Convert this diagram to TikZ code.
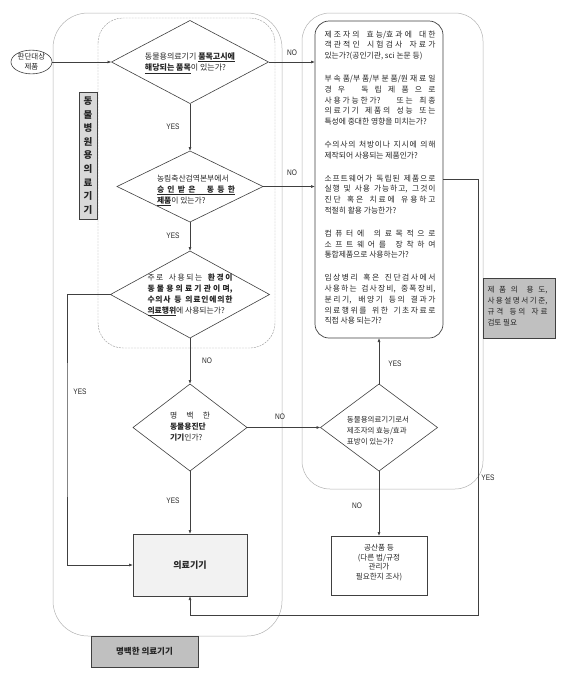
\documentclass[tikz,border=0pt]{standalone}
\usepackage{fontspec}
\setmainfont{Noto Sans CJK KR}
\newfontfamily\narrowfont[FakeStretch=0.82]{Liberation Sans}
\usetikzlibrary{shapes.geometric,arrows.meta,shadows}
\definecolor{lc}{HTML}{404040}
\definecolor{txt}{HTML}{262626}
\definecolor{grayfill}{HTML}{C0C0C0}
\definecolor{sidefill}{HTML}{D9D9D9}
\definecolor{boxfill}{HTML}{F2F2F2}
\newcommand\fsz[2]{\fontsize{#1}{#2}\selectfont}
\newcommand\jl[2]{\makebox[#1][s]{#2}}
% stretchable glue between Hangul syllables (used only in justified lines)
\XeTeXinterchartokenstate=1
\newXeTeXintercharclass\hangulclass
\count255="AC00
\loop
  \XeTeXcharclass\count255=\hangulclass
\ifnum\count255<"D7A3
  \advance\count255 by 1
\repeat
\XeTeXinterchartoks\hangulclass\hangulclass={\hskip0pt plus 0.35pt\relax}
\tikzset{
  dia/.style={diamond, draw=lc, line width=0.6pt, fill=white, inner sep=0pt, outer sep=0pt},
  dtext/.style={align=left, inner sep=0pt, text=txt, font=\fsz{7.8}{11}},
  arr/.style={-{Latex[length=4pt,width=3pt]}, draw=lc, line width=0.6pt},
  lbl/.style={font=\narrowfont\fsz{8}{9}, text=txt, inner sep=0pt},
  shbox/.style={rectangle, draw=lc, line width=0.6pt, inner sep=0pt, outer sep=0pt,
    drop shadow={shadow xshift=1.2pt, shadow yshift=-1.2pt, fill=black, opacity=0.35}},
  regionA/.style={draw=gray!60, line width=0.5pt},
  regionB/.style={draw=gray!75, line width=0.45pt, dash pattern=on 2pt off 1pt},
}
\begin{document}
\begin{tikzpicture}[x=1pt,y=-1pt]
\useasboundingbox (0,0) rectangle (569,681);
% regions
\draw[regionA, rounded corners=35pt] (53,13) rectangle (282,636);
\draw[regionB, rounded corners=25pt] (98,18) rectangle (275,348);
\draw[regionA, rounded corners=28pt] (302,13) rectangle (483,489);

% nodes
\node[ellipse, draw=lc, line width=0.6pt, fill=white, minimum width=41pt, minimum height=22pt, inner sep=0pt, align=center, text=txt, font=\fsz{7.5}{10}] (e) at (31.5,62) {판단대상\\제품};

\node[dia, minimum width=157pt, minimum height=83pt] (d1) at (190,62) {};
\node[dtext, font=\fsz{8}{11.5}] (t1) at (190,63) {동물용의료기기 \underline{\textbf{품목고시에}}\\\underline{\textbf{해당되는 품목}}이 있는가?};

\node[dia, minimum width=146pt, minimum height=71pt] (d2) at (190,186.5) {};
\node[dtext] (t2) at (196,190.5) {농림축산검역본부에서\\\underline{\jl{78pt}{\textbf{승 인 받 은\hspace{8pt} 동 등 한}}}\\\underline{\textbf{제품}}이 있는가?};

\node[dia, minimum width=159pt, minimum height=87pt] (d3) at (190,294.5) {};
\node[dtext] (t3) at (190,295) {\jl{85pt}{주로 사용되는 \textbf{환경이}}\\\jl{85pt}{\textbf{동 물 용 의 료 기 관 이 며,}}\\\jl{85pt}{\textbf{수의사 등 의료인에의한}}\\\underline{\textbf{의료행위}}에 사용되는가?};

\node[dia, minimum width=114pt, minimum height=87pt] (d4) at (190,427.5) {};
\node[dtext] (t4) at (190,427) {\jl{40pt}{명 백 한}\\\textbf{동물용진단}\\\textbf{기기}인가?};

\node[dia, minimum width=117pt, minimum height=87pt] (d5) at (379,427.5) {};
\node[dtext, font=\fsz{7.5}{11.3}] (t5) at (378,430.5) {동물용의료기기로서\\제조자의 효능/효과\\표방이 있는가?};

\node[rectangle, draw=lc, line width=0.7pt, fill=white, rounded corners=14pt, minimum width=128pt, minimum height=317pt, inner sep=0pt, outer sep=0pt] (tb) at (379,179.5) {};
\node[anchor=north, align=left, inner sep=0pt, text=txt, font=\fsz{7.8}{10.8}] (tbt) at (380,30.5) {%
\jl{111pt}{제조자의 효능/효과에 대한}\\
\jl{111pt}{객관적인 시험검사 자료가}\\
있는가?(공인기관, sci 논문 등)\\[12pt]
\jl{111pt}{부속품/부품/부분품/원재료일}\\
\jl{111pt}{경 우\hspace{10pt} 독 립 제 품 으 로}\\
\jl{111pt}{사용가능한가? 또는 최종}\\
\jl{111pt}{의료기기 제품의 성능 또는}\\
특성에 중대한 영향을 미치는가?\\[12pt]
\jl{111pt}{수의사의 처방이나 지시에 의해}\\
제작되어 사용되는 제품인가?\\[12pt]
\jl{111pt}{소프트웨어가 독립된 제품으로}\\
\jl{111pt}{실행 및 사용 가능하고, 그것이}\\
\jl{111pt}{진단 혹은 치료에 유용하고}\\
적절히 활용 가능한가?\\[12pt]
\jl{111pt}{컴 퓨 터 에\hspace{6pt} 의 료 목 적 으 로}\\
\jl{111pt}{소 프 트 웨 어 를\hspace{6pt} 장 착 하 여}\\
통합제품으로 사용하는가?\\[12pt]
\jl{111pt}{임상병리 혹은 진단검사에서}\\
\jl{111pt}{사용하는 검사장비, 중폭장비,}\\
\jl{111pt}{분리기, 배양기 등의 결과가}\\
\jl{111pt}{의료행위를 위한 기초자료로}\\
직접 사용 되는가?};

\node[shbox, fill=grayfill, minimum width=72pt, minimum height=60pt] (gb) at (519,308) {};
\node[align=left, inner sep=0pt, text=txt, font=\fsz{7.6}{11}] (gbt) at (517.5,306.5) {\jl{60pt}{제 품 의\hspace{4pt} 용 도,}\\\jl{60pt}{사용설명서기준,}\\\jl{60pt}{규격 등의 자료}\\검토 필요};

\node[shbox, fill=boxfill, minimum width=114pt, minimum height=62pt, text=txt, font=\bfseries\fsz{9}{11}] (mb) at (190,565) {의료기기};

\node[shbox, fill=white, minimum width=96pt, minimum height=59pt] (gs) at (379,565.5) {};
\node[align=center, inner sep=0pt, text=txt, font=\fsz{7.6}{9.8}] (gst) at (379,562.5) {공산품 등\\(다른 법/규정\\관리가\\필요한지 조사)};

\node[shbox, fill=grayfill, minimum width=107pt, minimum height=31pt, text=txt, font=\bfseries\fsz{8.5}{10}] (mk) at (144.5,651.5) {명백한 의료기기};

\node[shbox, fill=sidefill, minimum width=18pt, minimum height=127pt, align=center, text=txt, font=\bfseries\fsz{9.5}{13.6}] (sb) at (88,155.5) {동\\물\\병\\원\\용\\의\\료\\기\\기};

% connectors
\coordinate (c1) at (478,615);
\coordinate (c2) at (67,430);
\draw[arr] (e.east) -- (d1.west);
\draw[arr] (d1.east) -- (d1.east -| tb.west);
\draw[arr] (d1.south) -- (d2.north);
\draw[arr] (d2.east) -- (d2.east -| tb.west);
\draw[arr] (d2.south) -- (d3.north);
\draw[arr] (d3.south) -- (d4.north);
\draw[arr] (d3.west) -| (c2) |- (mb.west);
\draw[arr] (d4.south) -- (mb.north);
\draw[arr] (d4.east) -- (d5.west);
\draw[arr] (d5.north) -- (d5.north |- tb.south);
\draw[arr] (d5.south) -- (gs.north);
\draw[arr] (tb.east) -| (c1) -| (mb.south);

% labels
\node[lbl] (n1) at (292,53) {NO};
\node[lbl] (n2) at (292,173) {NO};
\node[lbl] (y1) at (173,127) {YES};
\node[lbl] (y2) at (173,236) {YES};
\node[lbl] (n3) at (207,361) {NO};
\node[lbl] (y3) at (80,392) {YES};
\node[lbl] (y4) at (173,501) {YES};
\node[lbl] (n4) at (280,417) {NO};
\node[lbl] (y5) at (395,364) {YES};
\node[lbl] (n5) at (357,506) {NO};
\node[lbl] (y6) at (488,478) {YES};
\end{tikzpicture}
\end{document}
